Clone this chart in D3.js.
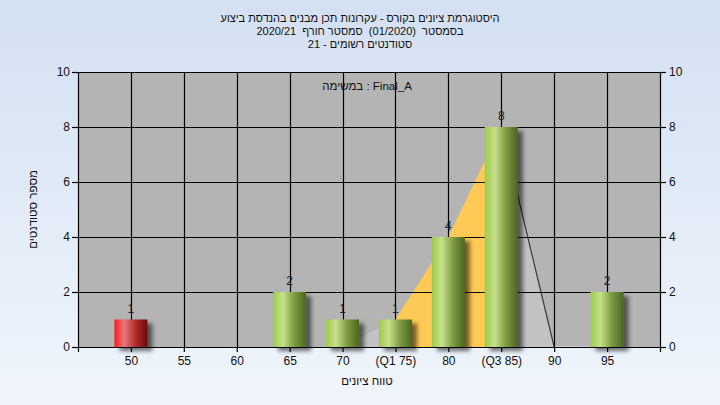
<!DOCTYPE html>
<html>
<head>
<meta charset="utf-8">
<script src="https://cdn.jsdelivr.net/npm/d3@7"></script>
<style>
html,body{margin:0;padding:0;}
svg{display:block;font-family:"Liberation Sans",Arial,sans-serif;}
</style>
</head>
<body>
<script>
const titleLines = [
  "היסטוגרמת ציונים בקורס - עקרונות תכן מבנים בהנדסת ביצוע",
  "בסמסטר  (01/2020)  סמסטר חורף  2020/21",
  "סטודנטים רשומים - 21"
];
const annotation = "במשימה : Final_A";
const yAxisTitle = "מספר סטודנטים";
const xAxisTitle = "טווח ציונים";
const categories = [50, 55, 60, 65, 70, 75, 80, 85, 90, 95];
const tickLabels = ["50", "55", "60", "65", "70", "(Q1 75)", "80", "(Q3 85)", "90", "95"];
const counts = [1, 0, 0, 2, 1, 1, 4, 8, 0, 2];
const areaCats = [70, 75, 80, 85, 90, 95];
const areaVals = [0, 1, 4, 8, 0, 0];
const q1 = 75, q3 = 85;
const failBelow = 55;
const yTicks = [0, 2, 4, 6, 8, 10];

const W = 720, H = 405;
const M = {left: 78, right: 660, top: 72, bottom: 347};

const svg = d3.select("body").append("svg").attr("width", W).attr("height", H);
const defs = svg.append("defs");

const bg = defs.append("linearGradient").attr("id", "bg").attr("x1", 0).attr("y1", 0).attr("x2", 0).attr("y2", 1);
bg.append("stop").attr("offset", 0).attr("stop-color", "#d3e0f2");
bg.append("stop").attr("offset", 1).attr("stop-color", "#f0f5fc");

function barGrad(id, c0, c1, c2, c3) {
  const g = defs.append("linearGradient").attr("id", id).attr("x1", 0).attr("y1", 0).attr("x2", 1).attr("y2", 0);
  g.append("stop").attr("offset", 0).attr("stop-color", c0);
  g.append("stop").attr("offset", 0.3).attr("stop-color", c1);
  g.append("stop").attr("offset", 0.65).attr("stop-color", c2);
  g.append("stop").attr("offset", 1).attr("stop-color", c3);
}
barGrad("gGreen", "#9ccc48", "#c6e08c", "#7c9a40", "#4a6620");
barGrad("gRed", "#ff1a1a", "#e47a7a", "#b02a2a", "#6e0c0c");

const sh = defs.append("filter").attr("id", "shadow").attr("x", "-20%").attr("y", "-20%").attr("width", "160%").attr("height", "160%");
sh.append("feDropShadow").attr("dx", 5).attr("dy", 4).attr("stdDeviation", 2.2).attr("flood-color", "#000").attr("flood-opacity", 0.55);

svg.append("rect").attr("width", W).attr("height", H).attr("fill", "url(#bg)");

const x = d3.scaleLinear().domain([45, 100]).range([M.left, M.right]);
const y = d3.scaleLinear().domain([0, 10]).range([M.bottom, M.top]);

// plot background
svg.append("rect").attr("x", M.left).attr("y", M.top).attr("width", M.right - M.left).attr("height", M.bottom - M.top).attr("fill", "#b4b4b4");

// areas
const area = d3.area().x(d => x(d[0])).y0(y(0)).y1(d => y(d[1]));
const areaData = areaCats.map((c, i) => [c, areaVals[i]]);
svg.append("path").datum(areaData).attr("d", area).attr("fill", "#c2c2c2");
svg.append("path").datum(areaData.filter(d => d[0] >= q1 && d[0] <= q3)).attr("d", area).attr("fill", "#ffc955");
const line = d3.line().x(d => x(d[0])).y(d => y(d[1]));
const tail = areaData.filter(d => d[0] >= q3);
svg.append("path").datum(tail.slice(0, 2)).attr("d", line)
  .attr("fill", "none").attr("stroke", "#3a3a3a").attr("stroke-width", 1.2);
svg.append("path").datum(tail.slice(1)).attr("d", line)
  .attr("fill", "none").attr("stroke", "#d8d8d8").attr("stroke-width", 1.5);

// grid
svg.append("g").selectAll("line").data(yTicks).join("line")
  .attr("x1", M.left).attr("x2", M.right).attr("y1", d => Math.round(y(d)) + 0.5).attr("y2", d => Math.round(y(d)) + 0.5)
  .attr("stroke", "#000").attr("stroke-width", 1.2);
svg.append("g").selectAll("line").data(categories).join("line")
  .attr("x1", d => Math.round(x(d)) + 0.5).attr("x2", d => Math.round(x(d)) + 0.5).attr("y1", M.top).attr("y2", M.bottom)
  .attr("stroke", "#000").attr("stroke-width", 1.2);

// bars
const bw = 33;
const barData = categories.map((c, i) => ({c, v: counts[i], label: tickLabels[i]}));
svg.append("g").selectAll("rect").data(barData.filter(d => d.v > 0)).join("rect")
  .attr("x", d => x(d.c) - bw / 2).attr("width", bw)
  .attr("y", d => y(d.v)).attr("height", d => y(0) - y(d.v))
  .attr("fill", d => d.c < failBelow ? "url(#gRed)" : "url(#gGreen)")
  .attr("filter", "url(#shadow)");

// value labels
svg.append("g").selectAll("text").data(barData.filter(d => d.v > 0)).join("text")
  .attr("x", d => x(d.c)).attr("y", d => y(d.v) - 7)
  .attr("text-anchor", "middle").attr("font-size", 12).attr("fill", "#1e1e2e").text(d => d.v);

// axes
const axL = d3.axisLeft(y).tickValues(yTicks).tickSize(6).tickPadding(2);
const gL = svg.append("g").attr("transform", `translate(${M.left},0)`).call(axL);
const axR = d3.axisRight(y).tickValues(yTicks).tickSize(6).tickPadding(3);
const gR = svg.append("g").attr("transform", `translate(${M.right},0)`).call(axR);
const axB = d3.axisBottom(x).tickValues(categories).tickFormat((d, i) => tickLabels[i]).tickSize(5).tickPadding(4);
const gB = svg.append("g").attr("transform", `translate(0,${M.bottom})`).call(axB);
[gL, gR, gB].forEach(g => {
  g.selectAll("text").attr("font-size", 12).attr("fill", "#111").attr("font-family", "Liberation Sans, Arial, sans-serif");
  g.selectAll("line").attr("stroke", "#000").attr("stroke-width", 1.2);
  g.select(".domain").attr("stroke", "#000").attr("stroke-width", 1.2);
});
gL.select(".domain").attr("d", `M0.5,${M.top}V${M.bottom + 5}`);
gR.select(".domain").attr("d", `M0.5,${M.top}V${M.bottom + 5}`);
gB.select(".domain").attr("d", `M${M.left},0.5H${M.right}`);

// titles
svg.append("g").selectAll("text").data(titleLines).join("text")
  .attr("x", 360).attr("y", (d, i) => 22 + i * 13)
  .attr("text-anchor", "middle").attr("direction", "rtl")
  .style("white-space", "pre")
  .attr("font-size", 11).attr("fill", "#111").text(d => d);

svg.append("text").attr("x", 367).attr("y", 90).attr("text-anchor", "middle")
  .attr("direction", "ltr").attr("font-size", 11.5).attr("fill", "#111").text(annotation);

svg.append("text").attr("transform", `translate(37,${(M.top + M.bottom) / 2}) rotate(-90)`)
  .attr("text-anchor", "middle").attr("direction", "rtl").attr("font-size", 11.5).attr("fill", "#111").text(yAxisTitle);

svg.append("text").attr("x", 367).attr("y", 385).attr("text-anchor", "middle")
  .attr("direction", "rtl").attr("font-size", 11.5).attr("fill", "#111").text(xAxisTitle);
</script>
</body>
</html>
